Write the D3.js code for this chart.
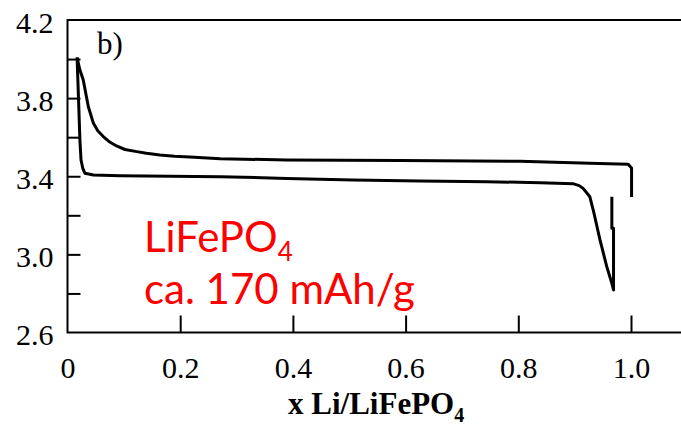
<!DOCTYPE html>
<html>
<head>
<meta charset="utf-8">
<script src="https://cdn.jsdelivr.net/npm/d3@7"></script>
<style>
  body { margin: 0; background: #fff; }
  svg { display: block; }
  .tick line { stroke: #000; stroke-width: 2; }
  .tick text { font-family: "Liberation Serif", "Times New Roman", serif; fill: #000; }
</style>
</head>
<body>
<svg id="chart" width="681" height="431"></svg>
<script>
// tick labels
const xTicks = [0, 0.2, 0.4, 0.6, 0.8, 1.0];
const yTicks = [2.6, 2.8, 3.0, 3.2, 3.4, 3.6, 3.8, 4.0, 4.2];
const yLabelled = [2.6, 3.0, 3.4, 3.8, 4.2];

// charge curve (upper), x Li vs voltage
const chargeX = [0.017, 0.022, 0.028, 0.033, 0.037, 0.046, 0.054, 0.064, 0.075, 0.087, 0.102, 0.123, 0.140, 0.164, 0.190, 0.217, 0.271, 0.389, 0.590, 0.803, 0.927, 0.995, 1.001, 1.001];
const chargeV = [4.008, 3.944, 3.893, 3.816, 3.756, 3.671, 3.632, 3.602, 3.575, 3.555, 3.537, 3.526, 3.518, 3.509, 3.503, 3.499, 3.490, 3.483, 3.481, 3.477, 3.466, 3.461, 3.442, 3.294];

// discharge curve (lower)
const dischargeX = [0.017, 0.019, 0.021, 0.022, 0.024, 0.027, 0.031, 0.046, 0.093, 0.271, 0.389, 0.507, 0.626, 0.744, 0.839, 0.897, 0.908, 0.915, 0.927, 0.933, 0.945, 0.957, 0.966, 0.969, 0.969, 0.966, 0.966];
const dischargeV = [4.008, 3.842, 3.673, 3.586, 3.483, 3.442, 3.415, 3.406, 3.403, 3.398, 3.389, 3.381, 3.376, 3.372, 3.367, 3.362, 3.352, 3.338, 3.295, 3.227, 3.074, 2.937, 2.852, 2.818, 3.134, 3.134, 3.295];

const svg = d3.select("#chart");
const mLeft = 67.5, mTop = 20, mBottom = 332.5, mRight = 681;

const x = d3.scaleLinear().domain([0, 1]).range([mLeft, 631]);
const y = d3.scaleLinear().domain([2.6, 4.2]).range([mBottom, mTop]);

// y axis, ticks pointing inward
const gy = svg.append("g")
  .attr("transform", `translate(${mLeft},0)`)
  .call(d3.axisLeft(y)
    .tickValues(yTicks)
    .tickSizeInner(-13)
    .tickSizeOuter(0)
    .tickPadding(14)
    .tickFormat(d => yLabelled.includes(d) ? d.toFixed(1) : ""));
gy.select(".domain").remove();
gy.selectAll(".tick text").attr("font-size", 30).attr("dy", "0.4em");
gy.selectAll(".tick").filter(d => d === 4.2 || d === 2.6).select("line").remove();

// x axis
const gx = svg.append("g")
  .attr("transform", `translate(0,${mBottom})`)
  .call(d3.axisBottom(x)
    .tickValues(xTicks)
    .tickSizeInner(-17)
    .tickSizeOuter(0)
    .tickPadding(24)
    .tickFormat(d => d === 0 ? "0" : d.toFixed(1)));
gx.select(".domain").remove();
gx.selectAll(".tick text").attr("font-size", 30);
gx.selectAll(".tick").filter(d => d === 0).select("line").remove();

// frame: left, top, bottom (open on the right)
svg.append("path")
  .attr("d", `M${mRight},${mTop}H${mLeft}V${mBottom}H${mRight}`)
  .attr("fill", "none")
  .attr("stroke", "#000")
  .attr("stroke-width", 2);

// curves
const line = d3.line().x(d => x(d[0])).y(d => y(d[1]));
const curves = [
  d3.zip(chargeX, chargeV),
  d3.zip(dischargeX, dischargeV)
];
svg.selectAll("path.curve")
  .data(curves)
  .join("path")
  .attr("class", "curve")
  .attr("d", line)
  .attr("fill", "none")
  .attr("stroke", "#000")
  .attr("stroke-width", 3)
  .attr("stroke-linejoin", "round");

// panel letter
svg.append("text")
  .attr("x", 97).attr("y", 54)
  .attr("font-family", "Liberation Serif, serif")
  .attr("font-size", 31)
  .text("b)");

// red annotation, two lines in one text
const note = svg.append("text")
  .attr("x", 144).attr("y", 252)
  .attr("font-family", "Lato, 'Open Sans', sans-serif")
  .attr("font-size", 42)
  .attr("fill", "#ff0000");
note.append("tspan").text("LiFePO");
note.append("tspan").attr("font-size", 26).attr("dy", 9).text("4");
note.append("tspan").attr("x", 144).attr("dy", 43).text("ca. 170 mAh/g");

// x axis title
const xt = svg.append("text")
  .attr("x", 288).attr("y", 414)
  .attr("font-family", "Liberation Serif, serif")
  .attr("font-weight", "bold")
  .attr("font-size", 31);
xt.append("tspan").text("x Li/LiFePO");
xt.append("tspan").attr("font-size", 20).attr("dy", 8).text("4");
</script>
</body>
</html>
